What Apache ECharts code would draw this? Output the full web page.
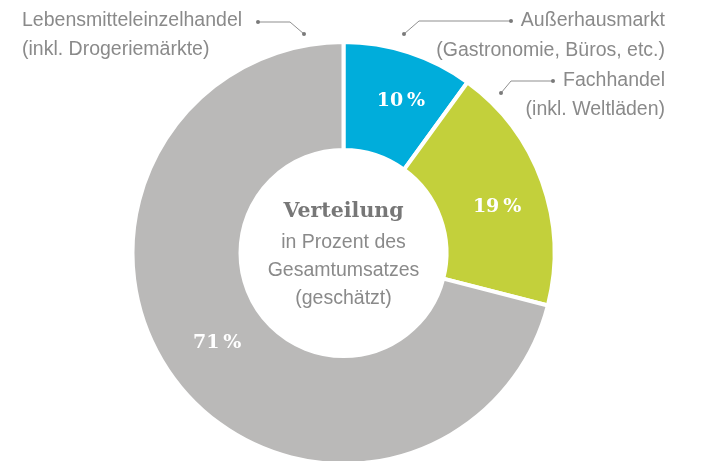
<!DOCTYPE html>
<html>
<head>
<meta charset="utf-8">
<script src="https://cdn.jsdelivr.net/npm/echarts@6/dist/echarts.min.js"></script>
<style>
  html, body { margin: 0; padding: 0; background: #fff; }
  #chart { width: 704px; height: 461px; }
</style>
</head>
<body>
<div id="chart"></div>
<script>
  // Verteilung in Prozent des Gesamtumsatzes
  var categories = ['Außerhausmarkt', 'Fachhandel', 'Lebensmitteleinzelhandel'];
  var subLabels = ['(Gastronomie, Büros, etc.)', '(inkl. Weltläden)', '(inkl. Drogeriemärkte)'];
  var shares = [10, 19, 71];
  var colors = ['#00addb', '#c3d03b', '#bab9b8'];
  var centerLines = ['in Prozent des', 'Gesamtumsatzes', '(geschätzt)'];

  var textGray = '#8a8a8a';
  var sans = '"Liberation Sans", Arial, sans-serif';
  var slab = '"DejaVu Serif", serif';

  var myChart = echarts.init(document.getElementById('chart'));

  // small nudges of the in-ring percent labels
  var labelNudge = [[8, 0], [3, 8], [0, -8]];

  var pieData = categories.map(function (name, i) {
    return {
      name: name,
      value: shares[i],
      itemStyle: {color: colors[i]},
      label: {offset: labelNudge[i]}
    };
  });

  function txt(str, x, y, align, size, color, weight, family) {
    return {
      type: 'text',
      style: {
        text: str, x: x, y: y,
        align: align, verticalAlign: 'middle',
        fill: color,
        font: (weight || 'normal') + ' ' + size + 'px ' + (family || sans)
      }
    };
  }
  function leader(points) {
    var first = points[0], last = points[points.length - 1];
    return [
      {type: 'polyline', shape: {points: points}, style: {stroke: '#8f8f8f', lineWidth: 1, fill: null}},
      {type: 'circle', shape: {cx: first[0], cy: first[1], r: 2}, style: {fill: '#7a7a7a'}},
      {type: 'circle', shape: {cx: last[0], cy: last[1], r: 2}, style: {fill: '#7a7a7a'}}
    ];
  }

  var graphics = [
    // left annotation
    txt(categories[2], 22, 21, 'left', 19.5, textGray),
    txt(subLabels[2], 22, 50, 'left', 19.5, textGray),
    // right annotations
    txt(categories[0], 665, 21, 'right', 19.5, textGray),
    txt(subLabels[0], 665, 51, 'right', 19.5, textGray),
    txt(categories[1], 665, 81, 'right', 19.5, textGray),
    txt(subLabels[1], 665, 110, 'right', 19.5, textGray),
    // center text
    txt('Verteilung', 343.5, 212, 'center', 20.5, '#777', 'bold', slab),
    txt(centerLines[0], 343.5, 243, 'center', 19.5, textGray),
    txt(centerLines[1], 343.5, 271, 'center', 19.5, textGray),
    txt(centerLines[2], 343.5, 299, 'center', 19.5, textGray)
  ]
    .concat(leader([[258, 22], [290, 22], [304, 34]]))
    .concat(leader([[511, 21], [419, 21], [404, 34]]))
    .concat(leader([[553, 81], [511, 81], [501, 93]]));

  var option = {
    animation: false,
    series: [
      {
        type: 'pie',
        center: [343.5, 253],
        radius: [103, 211],
        startAngle: 90,
        clockwise: true,
        silent: true,
        itemStyle: {borderColor: '#fff', borderWidth: 4},
        label: {
          show: true,
          position: 'inside',
          formatter: '{c}\u2009%',
          color: '#fff',
          fontFamily: slab,
          fontWeight: 'bold',
          fontSize: 19
        },
        labelLine: {show: false},
        data: pieData
      }
    ],
    graphic: graphics
  };
  myChart.setOption(option, true);
</script>
</body>
</html>
